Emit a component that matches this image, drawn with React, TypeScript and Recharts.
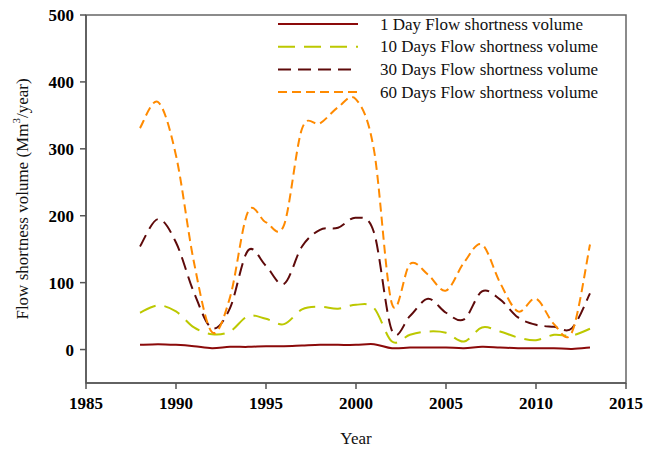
import React from 'react';
import { LineChart, Line, XAxis, YAxis, ReferenceArea } from 'recharts';

const years = [1988, 1989, 1990, 1991, 1992, 1993, 1994, 1995, 1996, 1997, 1998, 1999, 2000, 2001, 2002, 2003, 2004, 2005, 2006, 2007, 2008, 2009, 2010, 2011, 2012, 2013];
const oneDay = [7, 8, 7, 5, 2, 4, 4, 5, 5, 6, 7, 7, 7, 8, 2, 3, 3, 3, 2, 4, 3, 2, 2, 2, 1, 3];
const tenDays = [55, 66, 57, 33, 23, 27, 50, 46, 38, 60, 64, 61, 67, 62, 12, 22, 27, 25, 12, 33, 27, 18, 14, 22, 21, 31];
const thirtyDays = [154, 195, 160, 85, 32, 62, 148, 125, 98, 154, 179, 182, 197, 175, 28, 50, 76, 55, 45, 87, 75, 48, 37, 34, 32, 84];
const sixtyDays = [331, 370, 290, 130, 26, 78, 206, 190, 186, 330, 338, 362, 374, 298, 68, 128, 112, 88, 130, 157, 100, 57, 76, 38, 26, 157];

const xTicks = [1985, 1990, 1995, 2000, 2005, 2010, 2015];
const yTicks = [0, 100, 200, 300, 400, 500];

const seriesNames = [
  '1 Day Flow shortness volume',
  '10 Days Flow shortness volume',
  '30 Days Flow shortness volume',
  '60 Days Flow shortness volume',
];
const seriesKeys = ['d1', 'd10', 'd30', 'd60'];
const seriesColors = ['#8B0A0A', '#BCC800', '#5E0A0A', '#FF8A00'];
const seriesDash = ['', '17 9', '13 7', '9 5'];

const data = years.map((y, i) => ({
  year: y,
  d1: oneDay[i],
  d10: tenDays[i],
  d30: thirtyDays[i],
  d60: sixtyDays[i],
}));

// Catmull-Rom style smooth curve (like spreadsheet "smoothed line")
const smoothCurve: any = (context: any) => {
  let pts: number[][] = [];
  return {
    areaStart() {},
    areaEnd() {},
    lineStart() {
      pts = [];
    },
    lineEnd() {
      const n = pts.length;
      if (!n) return;
      context.moveTo(pts[0][0], pts[0][1]);
      for (let i = 0; i < n - 1; i++) {
        const p0 = pts[Math.max(i - 1, 0)];
        const p1 = pts[i];
        const p2 = pts[i + 1];
        const p3 = pts[Math.min(i + 2, n - 1)];
        context.bezierCurveTo(
          p1[0] + (p2[0] - p0[0]) / 6,
          p1[1] + (p2[1] - p0[1]) / 6,
          p2[0] - (p3[0] - p1[0]) / 6,
          p2[1] - (p3[1] - p1[1]) / 6,
          p2[0],
          p2[1]
        );
      }
    },
    point(x: number, y: number) {
      pts.push([+x, +y]);
    },
  };
};

const FONT = 'Liberation Serif';

const LegendBox = () => (
  <svg width={360} height={100} style={{ display: 'block' }}>
    {seriesNames.map((name, i) => {
      const y = 19 + i * 22.7;
      return (
        <g key={name}>
          <line x1={8} x2={88} y1={y} y2={y} stroke={seriesColors[i]} strokeWidth={2} strokeDasharray={seriesDash[i] || undefined} />
          <text x={110} y={y + 5.5} fontFamily={FONT} fontSize={17} fill="#111">
            {name}
          </text>
        </g>
      );
    })}
  </svg>
);

const YLabel = (props: any) => {
  const vb = props.viewBox || {};
  const cy = (vb.y ?? 15) + (vb.height ?? 368) / 2;
  const cx = 22;
  return (
    <text x={cx} y={cy} transform={`rotate(-90 ${cx} ${cy})`} textAnchor="middle" dominantBaseline="central" fontFamily={FONT} fontSize={17} fill="#111">
      <tspan>Flow shortness volume (Mm</tspan>
      <tspan fontSize={11} dy={-6}>3</tspan>
      <tspan dy={6}>/year)</tspan>
    </text>
  );
};

const XLabel = (props: any) => {
  const vb = props.viewBox || {};
  const cx = (vb.x ?? 86) + (vb.width ?? 540) / 2;
  return (
    <text x={cx} y={444} textAnchor="middle" fontFamily={FONT} fontSize={17} fill="#111">
      Year
    </text>
  );
};

const XTick = (props: any) => {
  const { x, y, payload } = props;
  return (
    <text x={x} y={y + 14} textAnchor="middle" fontFamily={FONT} fontSize={17} fontWeight={700} fill="#000">
      {payload.value}
    </text>
  );
};

const YTick = (props: any) => {
  const { x, y, payload } = props;
  return (
    <text x={x} y={y + 6} textAnchor="end" fontFamily={FONT} fontSize={17} fontWeight={700} fill="#000">
      {payload.value}
    </text>
  );
};

export default function App() {
  return (
    <div style={{ position: 'absolute', left: 0, top: 0, width: 653, height: 450, background: '#fff' }}>
      <LineChart width={653} height={450} data={data} margin={{ top: 15, right: 27, bottom: 0, left: 0 }} style={{ fontFamily: 'Liberation Serif' }}>
        <ReferenceArea x1={1985} x2={2015} y1={-50} y2={500} fill="none" stroke="#666" strokeWidth={1.5} />
        <XAxis
          dataKey="year"
          type="number"
          domain={[1985, 2015]}
          ticks={xTicks}
          height={67}
          stroke="#555"
          strokeWidth={1.5}
          tickSize={6}
          tickMargin={6}
          tick={<XTick />}
          label={<XLabel />}
        />
        <YAxis
          type="number"
          domain={[-50, 500]}
          ticks={yTicks}
          width={86}
          stroke="#555"
          strokeWidth={1.5}
          tickSize={6}
          tickMargin={6}
          tick={<YTick />}
          label={<YLabel />}
        />
        {seriesKeys.map((k, i) => (
          <Line
            key={k}
            dataKey={k}
            name={seriesNames[i]}
            type={smoothCurve}
            stroke={seriesColors[i]}
            strokeWidth={2}
            strokeDasharray={seriesDash[i] || undefined}
            dot={false}
            activeDot={false}
            isAnimationActive={false}
          />
        ))}
      </LineChart>
      <div style={{ position: 'absolute', left: 270, top: 5 }}>
        <LegendBox />
      </div>
    </div>
  );
}
